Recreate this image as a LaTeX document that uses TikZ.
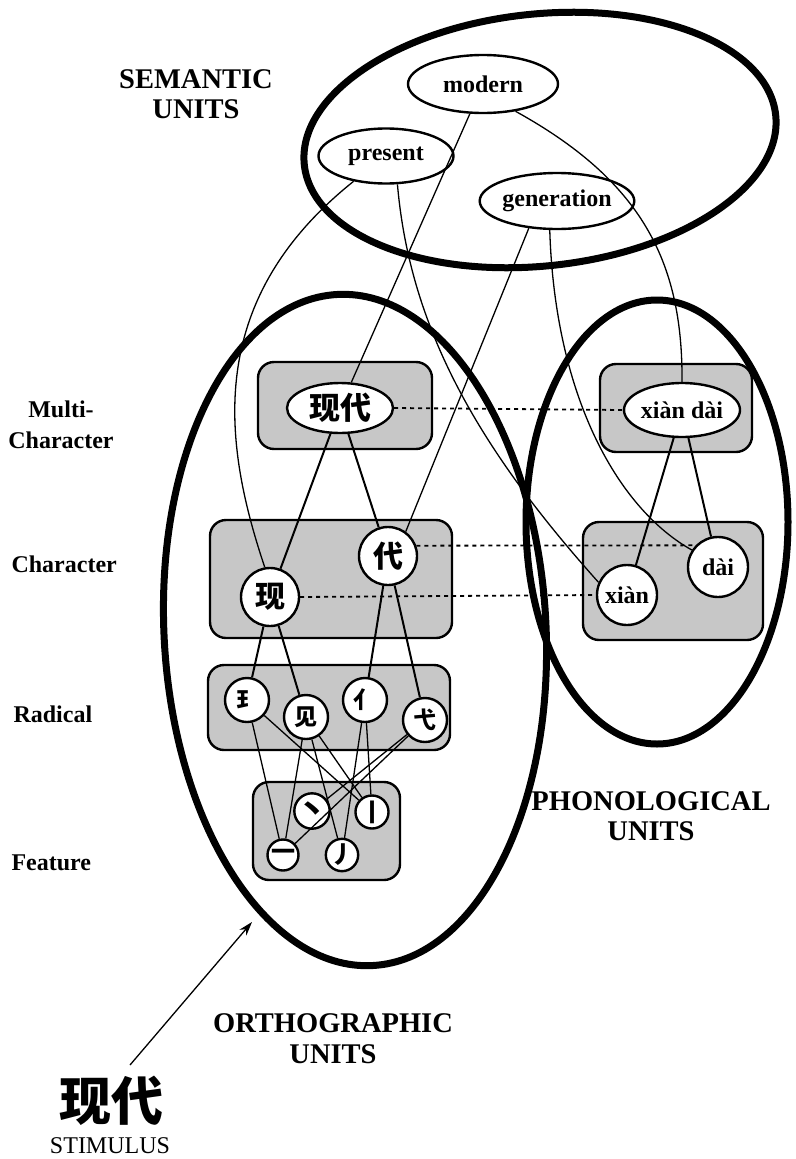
\documentclass[tikz,border=0pt]{standalone}
\usepackage{fontspec}
\setmainfont{Liberation Serif}
\newfontfamily\cjk{Noto Sans CJK SC}
\usetikzlibrary{shapes.geometric,arrows.meta}
\begin{document}
\begin{tikzpicture}[x=1pt,y=-1pt,
  bigell/.style={line width=7pt},
  unitbox/.style={draw,line width=2.4pt,rounded corners=16pt,fill=black!22},
  word/.style={ellipse,draw,line width=2.4pt,fill=white,inner sep=0pt,font=\bfseries\fontsize{24}{26}\selectfont},
  circ/.style={circle,draw,line width=2.4pt,fill=white,inner sep=0pt},
  cjkfont/.style={font=\cjk\bfseries\fontsize{#1}{#1}\selectfont},
  conn/.style={line width=1.3pt},
  oconn/.style={line width=2pt},
  dashconn/.style={line width=1.8pt,dash pattern=on 4pt off 4pt},
  lab/.style={font=\bfseries\fontsize{24}{27}\selectfont,anchor=base},
  biglab/.style={font=\bfseries\fontsize{28.5}{31}\selectfont,anchor=base},
]
\useasboundingbox (0,0) rectangle (795,1159);

% big unit ellipses
\draw[bigell, rotate around={6:(540,140)}] (540,140) ellipse [x radius=237, y radius=126];
\draw[bigell, rotate around={3:(355,630)}] (355,630) ellipse [x radius=191, y radius=336];
\draw[bigell] (657,522) ellipse [x radius=131, y radius=222];

% level boxes
\draw[unitbox] (258,362) rectangle (432,449);
\draw[unitbox] (210,520) rectangle (452,638);
\draw[unitbox] (208,665) rectangle (450,750);
\draw[unitbox] (253,782) rectangle (400,880);
\draw[unitbox] (600,364) rectangle (752,452);
\draw[unitbox] (583,522) rectangle (763,640);

% semantic nodes
\node[word, minimum width=150pt, minimum height=58pt] (modern) at (483,84) {modern};
\node[word, minimum width=135pt, minimum height=55pt] (present) at (386,156) {present};
\node[word, minimum width=150pt, minimum height=56pt] (generation) at (557,201) {generation};

% orthographic nodes
\node[word, minimum width=106pt, minimum height=50pt, cjkfont=31] (omulti) at (340,408) {现代};
\node[circ, minimum size=58pt, cjkfont=30] (ochar1) at (270,597) {现};
\node[circ, minimum size=58pt, cjkfont=30] (ochar2) at (388,556) {代};
\node[circ, minimum size=44pt, cjkfont=22] (rad1) at (247,700) {⺩};
\node[circ, minimum size=44pt, cjkfont=23] (rad2) at (306,717) {见};
\node[circ, minimum size=44pt, cjkfont=23] (rad3) at (365,700) {亻};
\node[circ, minimum size=44pt, cjkfont=23] (rad4) at (425,720) {弋};
\node[circ, minimum size=31pt, cjkfont=30] (feat1) at (312,811) {丶};
\node[circ, minimum size=31pt, cjkfont=24] (feat2) at (372,812) {丨};
\node[circ, minimum size=31pt, cjkfont=24] (feat3) at (283,855) {一};
\node[circ, minimum size=31pt, cjkfont=24] (feat4) at (342,855) {丿};

% phonological nodes
\node[word, minimum width=107pt, minimum height=54pt] (pmulti) at (682,410) {xiàn dài};
\node[circ, minimum size=60pt, font=\bfseries\fontsize{24}{24}\selectfont] (pchar1) at (627,595) {xiàn};
\node[circ, minimum size=60pt, font=\bfseries\fontsize{24}{24}\selectfont] (pchar2) at (718,567) {dài};

% semantic connections
\draw[conn] (modern) -- (omulti);
\draw[conn] (modern.-40) .. controls (640,180) and (683,260) .. (pmulti.90);
\draw[conn] (present.-142) .. controls (205,300) and (222,440) .. (ochar1.100);
\draw[conn] (present.-68) .. controls (410,330) and (480,450) .. (pchar1.156);
\draw[conn] (generation.-136) -- (ochar2.54);
\draw[conn] (generation.-104) .. controls (555,400) and (620,510) .. (pchar2.147);

% orthographic connections
\draw[oconn] (omulti) -- (ochar1);
\draw[oconn] (omulti) -- (ochar2);
\draw[oconn] (ochar1) -- (rad1);
\draw[oconn] (ochar1) -- (rad2);
\draw[oconn] (ochar2) -- (rad3);
\draw[oconn] (ochar2) -- (rad4);
\draw[conn] (rad1) -- (feat3);
\draw[conn] (rad1) -- (feat2);
\draw[conn] (rad2) -- (feat3);
\draw[conn] (rad2) -- (feat4);
\draw[conn] (rad2) -- (feat2);
\draw[conn] (rad3) -- (feat4);
\draw[conn] (rad3) -- (feat2);
\draw[conn] (rad4) -- (feat1);
\draw[conn] (rad4) -- (feat3);

% phonological connections
\draw[oconn] (pmulti) -- (pchar1);
\draw[oconn] (pmulti) -- (pchar2);

% dashed correspondences
\draw[dashconn] (omulti.east) -- (pmulti.west);
\draw[dashconn] (ochar2.20) -- (pchar2.136);
\draw[dashconn] (ochar1.east) -- (pchar1.west);

% labels
\node[biglab] (semA) at (196,88) {SEMANTIC};
\node[biglab] (semB) at (196,118) {UNITS};
\node[lab] (lmultiA) at (61,417) {Multi-};
\node[lab] (lmultiB) at (61,448) {Character};
\node[lab, anchor=base west] (lchar) at (8,572) {Character};
\node[lab, anchor=base west] (lrad) at (10,722) {Radical};
\node[lab, anchor=base west] (lfeat) at (8,870) {Feature};
\node[biglab] (phonA) at (651,810) {PHONOLOGICAL};
\node[biglab] (phonB) at (651,840) {UNITS};
\node[biglab] (orthA) at (333,1032) {ORTHOGRAPHIC};
\node[biglab] (orthB) at (333,1063) {UNITS};

% stimulus
\node[anchor=base, inner sep=0pt, cjkfont=52] (stim) at (111,1120) {现代};
\node[anchor=base, inner sep=0pt, font=\fontsize{24}{26}\selectfont] (stimlab) at (110,1153) {STIMULUS};
\coordinate (arrowfrom) at (130,1065);
\coordinate (arrowto) at (252,922);
\draw[line width=1.3pt, -{Stealth[length=14pt,width=9pt]}] (arrowfrom) -- (arrowto);
\end{tikzpicture}
\end{document}
